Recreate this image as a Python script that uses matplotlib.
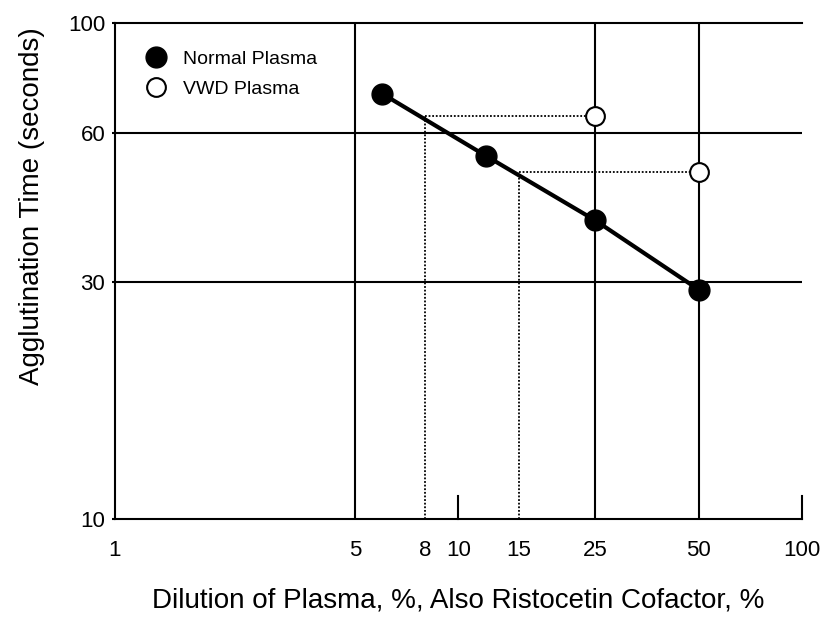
import matplotlib
matplotlib.use("Agg")
import matplotlib.pyplot as plt
from matplotlib.ticker import FixedLocator, NullLocator, FixedFormatter

# Dilution of plasma (%) and agglutination time (s)
normal_x = [6, 12, 25, 50]
normal_y = [72, 54, 40, 29]
vwd_x = [25, 50]
vwd_y = [65, 50]
# ristocetin cofactor for each VWD sample
vwd_read_x = [8, 15]

x_ticks = [1, 5, 8, 10, 15, 25, 50, 100]
y_ticks = [10, 30, 60, 100]
x_grid = [5, 25, 50]
y_grid = [30, 60]

plt.rcParams["font.family"] = ["Liberation Sans", "DejaVu Sans"]

fig = plt.figure(figsize=(8.35, 6.21), dpi=100)
ax = fig.add_axes([0.1377, 0.1643, 0.9605 - 0.1377, 0.963 - 0.1643])
ax.set_xscale("log")
ax.set_yscale("log")
ax.set_xlim(1, 100)
ax.set_ylim(10, 100)

for v in x_grid:
    ax.axvline(v, color="black", lw=1.5, zorder=1)
for v in y_grid:
    ax.axhline(v, color="black", lw=1.5, zorder=1)

# short inward marks at 10 and 100 on the bottom edge
for v in (10, 100):
    ax.plot([v, v], [10, 11.1], color="black", lw=1.5, zorder=1, clip_on=False)

# dotted read-off guides
for rx, (px, py) in zip(vwd_read_x, zip(vwd_x, vwd_y)):
    ax.plot([rx, px], [py, py], color="black", lw=1.3, ls=(0, (1.0, 1.0)), zorder=2)
    ax.plot([rx, rx], [10, py], color="black", lw=1.3, ls=(0, (1.0, 1.0)), zorder=2)

ax.plot(normal_x, normal_y, color="black", lw=3.0, zorder=3)
h1, = ax.plot(normal_x, normal_y, ls="none", marker="o", ms=15,
              mfc="black", mec="black", zorder=4, label="Normal Plasma")
h2, = ax.plot(vwd_x, vwd_y, ls="none", marker="o", ms=13.5,
              mfc="white", mec="black", mew=1.5, zorder=4, label="VWD Plasma")

ax.xaxis.set_major_locator(FixedLocator(x_ticks))
ax.xaxis.set_major_formatter(FixedFormatter([str(v) for v in x_ticks]))
ax.xaxis.set_minor_locator(NullLocator())
ax.yaxis.set_major_locator(FixedLocator(y_ticks))
ax.yaxis.set_major_formatter(FixedFormatter([str(v) for v in y_ticks]))
ax.yaxis.set_minor_locator(NullLocator())
ax.tick_params(axis="x", length=0, pad=15, labelsize=16)
ax.tick_params(axis="y", length=2, width=1.5, pad=5, labelsize=16)

ax.spines["right"].set_visible(False)
for s in ("left", "bottom", "top"):
    ax.spines[s].set_linewidth(1.5)

ax.set_xlabel("Dilution of Plasma, %, Also Ristocetin Cofactor, %", fontsize=20, labelpad=19)
ax.set_ylabel("Agglutination Time (seconds)", fontsize=20)
ax.yaxis.set_label_coords(-0.102, 0.631)

ax.legend(handles=[h1, h2], loc="upper left", frameon=False,
          bbox_to_anchor=(0.02, 0.98), handlelength=1.0, handletextpad=0.9,
          labelspacing=0.65, prop={"size": 14})

fig.savefig("out.png", dpi=100, facecolor="white")
